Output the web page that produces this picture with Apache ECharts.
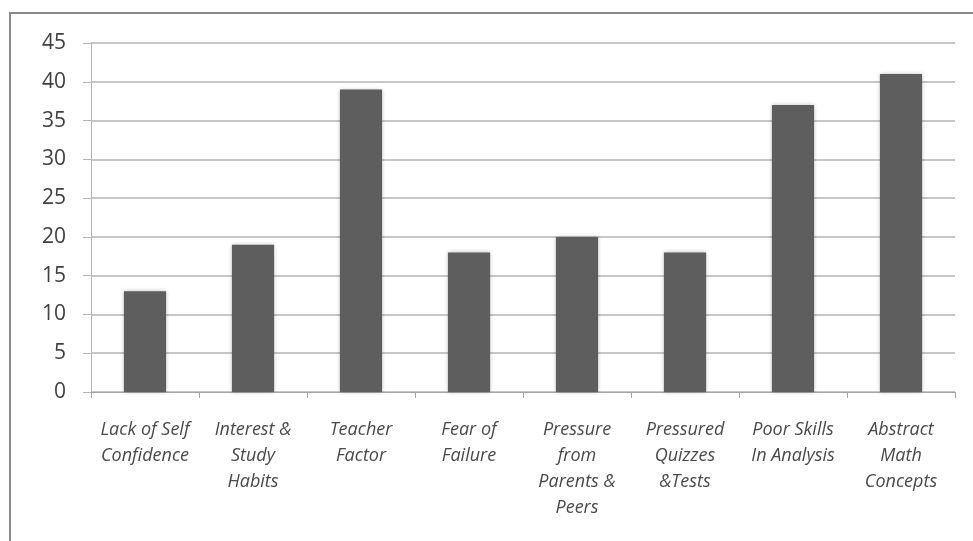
<!DOCTYPE html>
<html>
<head>
<meta charset="utf-8">
<script src="https://cdn.jsdelivr.net/npm/echarts@6/dist/echarts.min.js"></script>
<style>
    html, body { margin: 0; padding: 0; background: #fff; }
    #chart { width: 973px; height: 541px; }
</style>
</head>
<body>
<div id="chart"></div>
<script>
// categories and values
const categories = [
    'Lack of Self\nConfidence',
    'Interest &\nStudy\nHabits',
    'Teacher\nFactor',
    'Fear of\nFailure',
    'Pressure\nfrom\nParents &\nPeers',
    'Pressured\nQuizzes\n&Tests',
    'Poor Skills\nIn Analysis',
    'Abstract\nMath\nConcepts'
]
const values = [13, 19, 39, 18, 20, 18, 37, 41]
const yTicks = [0, 5, 10, 15, 20, 25, 30, 35, 40, 45]

const chart = echarts.init(document.getElementById('chart'))

chart.setOption({
    animation: false,
    backgroundColor: '#fff',
    textStyle: {
        fontFamily: 'Open Sans'
    },
    graphic: [
        {
            // outer chart frame, runs off the right and bottom edge
            type: 'rect',
            shape: { x: 10, y: 13, width: 1000, height: 600 },
            style: { fill: 'none', stroke: '#8a8a8a', lineWidth: 2 },
            silent: true
        }
    ],
    grid: {
        left: 91,
        right: 18,
        top: 43,
        bottom: 149
    },
    xAxis: {
        type: 'category',
        data: categories,
        axisLine: { lineStyle: { color: '#a6a6a6', width: 1 } },
        axisTick: {
            show: true,
            alignWithLabel: false,
            length: 6,
            lineStyle: { color: '#a6a6a6' }
        },
        axisLabel: {
            interval: 0,
            margin: 25,
            fontSize: 18,
            fontStyle: 'italic',
            color: '#4a4a4a',
            lineHeight: 26
        }
    },
    yAxis: {
        type: 'value',
        min: yTicks[0],
        max: yTicks[yTicks.length - 1],
        interval: 5,
        axisLine: { show: true, lineStyle: { color: '#b5b5b5', width: 1 } },
        axisTick: {
            show: true,
            length: 8,
            lineStyle: { color: '#b5b5b5' }
        },
        axisLabel: {
            margin: 25,
            fontSize: 21,
            color: '#404040'
        },
        splitLine: {
            lineStyle: { color: '#b5b5b5', width: 1.5 }
        }
    },
    series: [
        {
            type: 'bar',
            data: values,
            barWidth: '39%',
            itemStyle: {
                color: '#5e5e5e',
                shadowBlur: 4,
                shadowColor: 'rgba(0, 0, 0, 0.25)'
            }
        }
    ]
})
</script>
</body>
</html>
